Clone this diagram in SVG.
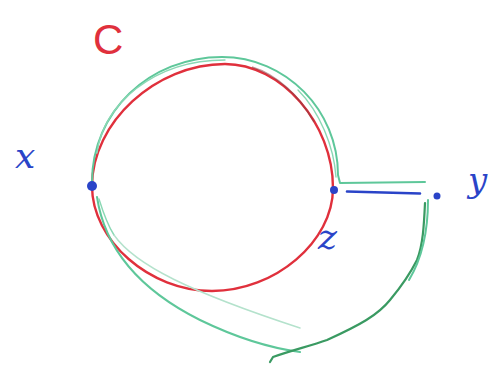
<svg xmlns="http://www.w3.org/2000/svg" width="495" height="367" viewBox="0 0 495 367">
<style>
.lbl{font-family:"DejaVu Serif","Liberation Serif",serif;font-style:italic}
.blue{fill:#2a44c8}
.red{fill:#e0303c}
.gr{fill:none;stroke:#5ec79a;stroke-width:2;stroke-linecap:round;stroke-linejoin:round}
.grl{fill:none;stroke:#8ad8b4;stroke-width:1.4;stroke-linecap:round;stroke-linejoin:round}
.grd{fill:none;stroke:#3a9a62;stroke-width:2.2;stroke-linecap:round;stroke-linejoin:round}
.faint{fill:none;stroke:#b4e2cc;stroke-width:1.4;stroke-linecap:round}
</style>
<rect width="495" height="367" fill="#fff"/>
<g id="curve-C">
<path d="M92 186 C92 122.6 155.8 64 225 64 C281.2 64 333 123.5 333 188 C333 241.6 274.9 291 212 291 C149.6 291 92 240.6 92 186 Z" fill="none" stroke="#e0303c" stroke-width="2.4"/>
<path d="M252 67 C278 75 300 97 314 122" fill="none" stroke="#8a3a40" stroke-width="1.6" opacity="0.55"/>
</g>
<g id="connectors">
<path class="gr" d="M92 182 C92 112 149.2 57 222 57 C285.8 57 338 110.1 338 175 L340 183 L425 182"/>
<path class="grl" transform="translate(3,3)" d="M94 150 C100 102 150 57 222 57"/>
<path class="grl" transform="translate(-2,2)" d="M300 88 C322 110 336 145 338 175"/>
<path class="gr" d="M97 197 C105 250 140 290 200 320 C235 337 270 348 300 352"/>
<path class="grl" d="M99 199 C103 212 107 224 114 235"/>
<path class="faint" d="M114 235 C135 265 190 292 300 328"/>
<path class="grd" d="M425 203 C424 225 423 245 417 260 C412 270 405 282 390 300 C378 315 360 325 327 340 C310 346 293 350 273 357 L270 362"/>
<path class="gr" d="M428 200 C428 228 424 255 409 280"/>
<path d="M347 191.5 L420 193.5" fill="none" stroke="#2a44c8" stroke-width="2.6" stroke-linecap="round"/>
</g>
<g id="node-x">
<circle cx="92" cy="186" r="5" class="blue"/>
<text x="15" y="168" class="lbl blue" font-size="36">x</text>
</g>
<g id="node-z">
<circle cx="334" cy="190" r="4" class="blue"/>
<text x="318" y="249" class="lbl blue" font-size="36">z</text>
</g>
<g id="node-y">
<circle cx="437" cy="196" r="3.5" class="blue"/>
<text x="468" y="192" class="lbl blue" font-size="34">y</text>
</g>
<g id="label-C">
<text x="93" y="54" font-family="Liberation Sans, Arial, sans-serif" font-size="42" class="red">C</text>
</g>
</svg>
